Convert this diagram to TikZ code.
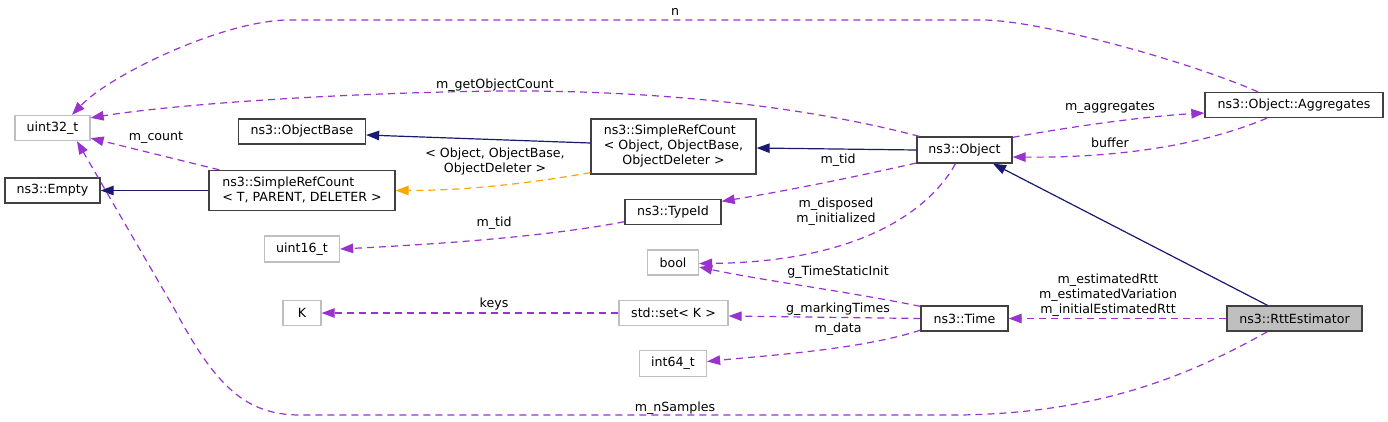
\documentclass[tikz,border=0pt]{standalone}
\usepackage{fontspec}
\setmainfont{DejaVu Sans}
\usetikzlibrary{arrows.meta}
\definecolor{dep}{HTML}{9A32CD}
\definecolor{inh}{HTML}{191970}
\definecolor{tpl}{HTML}{FFA500}
\definecolor{ext}{HTML}{BFBFBF}
\definecolor{bord}{HTML}{404040}
\tikzset{
  every node/.style={font=\fontsize{12.6}{15}\selectfont, inner sep=0pt},
  cls/.style={draw=bord, line width=1.3pt, minimum height=25pt, fill=white},
  extcls/.style={draw=ext, line width=1.3pt, minimum height=25pt, fill=white},
  tip/.style={-{Triangle[length=13pt,width=9.5pt]}},
  depline/.style={tip, draw=dep, line width=1.2pt, dash pattern=on 7pt off 5pt},
  inhline/.style={tip, draw=inh, line width=1.2pt},
  tplline/.style={tip, draw=tpl, line width=1.2pt, dash pattern=on 7pt off 5pt},
  lbl/.style={align=center}
}
\begin{document}
\begin{tikzpicture}[x=1pt,y=-1pt]
\useasboundingbox (0,0) rectangle (1388,421);
% nodes
\node[extcls, minimum width=75pt] (u32) at (52.5,128) {uint32\_t};
\node[cls, minimum width=95pt] (empty) at (52.5,190.5) {ns3::Empty};
\node[cls, minimum width=127pt] (objbase) at (302,131.5) {ns3::ObjectBase};
\node[cls, minimum width=186pt, minimum height=40pt] (srct) at (302,190.5)
  {\begin{tabular}{@{}l@{}}ns3::SimpleRefCount\\\multicolumn{1}{@{}c@{}}{< T, PARENT, DELETER >}\end{tabular}};
\node[extcls, minimum width=75pt, minimum height=26pt] (u16) at (302,249) {uint16\_t};
\node[extcls, minimum width=38pt] (K) at (302,313) {K};
\node[cls, minimum width=165pt, minimum height=55pt] (srco) at (673.5,146.5)
  {\begin{tabular}{@{}l@{}}ns3::SimpleRefCount\\< Object, ObjectBase,\\\multicolumn{1}{@{}c@{}}{ObjectDeleter >}\end{tabular}};
\node[cls, minimum width=96pt] (typeid) at (673,212) {ns3::TypeId};
\node[extcls, minimum width=51pt] (bool) at (673,262.5) {bool};
\node[extcls, minimum width=109pt] (set) at (673.5,313) {std::set< K >};
\node[extcls, minimum width=67pt, minimum height=26pt] (int64) at (673,363.5) {int64\_t};
\node[cls, minimum width=95pt, minimum height=26pt] (obj) at (964.5,150) {ns3::Object};
\node[cls, minimum width=87pt] (time) at (964.5,318.5) {ns3::Time};
\node[cls, minimum width=178pt] (agg) at (1294,105) {ns3::Object::Aggregates};
\node[cls, minimum width=135pt, fill=ext] (rtt) at (1294.5,318.5) {ns3::RttEstimator};
% inheritance
\draw[inhline] (srct.west) -- (empty.east);
\draw[inhline] ([yshift=3.5pt]srco.west) -- ([yshift=-3.5pt]objbase.east);
\draw[inhline] (obj.west) -- ([yshift=-1.5pt]srco.east);
\draw[inhline] ([xshift=-27pt]rtt.north) -- ([xshift=28.5pt]obj.south);
% template
\draw[tplline] ([yshift=2pt]srco.south west) .. controls (520,185) and (460,190.5) .. (srct.east);
% usage
\draw[depline] ([xshift=3pt]obj.north west) .. controls (800,105) and (650,90) .. (500,91)
  .. controls (330,93) and (170,105) .. ([yshift=-3pt]u32.north east);
\draw[depline] ([xshift=-36pt]agg.north) .. controls (1190,62) and (1040,20) .. (982,20)
  -- (286,20) .. controls (220,22) and (110,75) .. ([xshift=19.5pt]u32.north);
\draw[depline] ([xshift=11pt]srct.north west) -- ([yshift=3pt]u32.south east);
\draw[depline] ([xshift=-27pt]rtt.south) .. controls (1190,375) and (1100,413) .. (960,415)
  -- (300,415) .. controls (245,415) and (215,385) .. (175,310) -- ([xshift=24.5pt]u32.south);
\draw[depline] ([yshift=-13pt]obj.west) .. controls (850,178) and (780,192) .. ([yshift=-2.5pt]typeid.north east);
\draw[depline] ([yshift=-9.7pt]typeid.west) .. controls (540,238) and (420,245) .. (u16.east);
\draw[depline] ([xshift=-9pt]obj.south) .. controls (930,210) and (860,262) .. ([yshift=-1pt]bool.east);
\draw[depline] ([yshift=-1pt]time.north west) .. controls (850,292) and (760,280) .. ([yshift=-4.5pt]bool.east);
\draw[depline] (time.west) -- ([yshift=-3pt]set.east);
\draw[depline] (set.west) -- (K.east);
\draw[depline] ([yshift=1.5pt]time.south west) .. controls (860,350) and (760,356) .. ([yshift=2pt]int64.east);
\draw[depline] ([yshift=-1pt]obj.north east) .. controls (1080,125) and (1150,116) .. ([yshift=-8pt]agg.west);
\draw[depline] ([xshift=-27pt]agg.south) .. controls (1210,142) and (1130,158) .. ([yshift=-7pt]obj.east);
\draw[depline] (rtt.west) -- (time.east);
% labels
\node[lbl] (l1) at (495,85) {m\_getObjectCount};
\node[lbl] (l2) at (675,12) {n};
\node[lbl] (l3) at (156,138) {m\_count};
\node[lbl] (l4) at (675,408) {m\_nSamples};
\node[lbl] (l5) at (495,161.5) {< Object, ObjectBase,\\ObjectDeleter >};
\node[lbl] (l6) at (838,160) {m\_tid};
\node[lbl] (l7) at (494,223) {m\_tid};
\node[lbl] (l8) at (836,212) {m\_disposed\\m\_initialized};
\node[lbl] (l9) at (838,272) {g\_TimeStaticInit};
\node[lbl] (l10) at (838,309) {g\_markingTimes};
\node[lbl] (l11) at (494,304) {keys};
\node[lbl] (l12) at (838,329) {m\_data};
\node[lbl] (l13) at (1110,107.5) {m\_aggregates};
\node[lbl] (l14) at (1110,143) {buffer};
\node[lbl] (l15) at (1108,295.5) {m\_estimatedRtt\\m\_estimatedVariation\\m\_initialEstimatedRtt};
\end{tikzpicture}
\end{document}
